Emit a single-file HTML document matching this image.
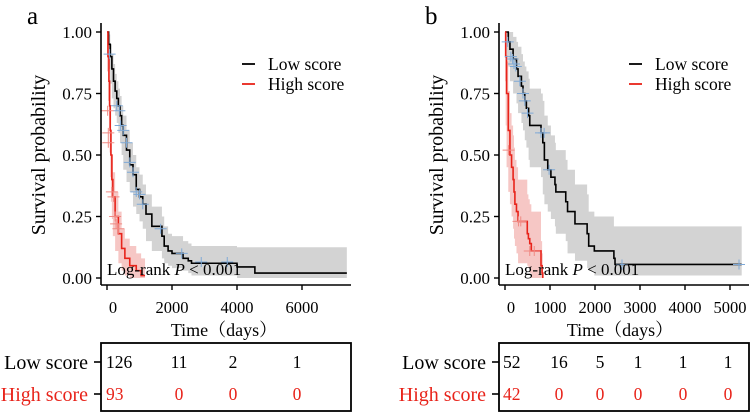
<!DOCTYPE html>
<html><head><meta charset="utf-8"><style>
html,body{margin:0;padding:0;background:#fff}
svg{display:block;font-family:"Liberation Serif","Noto Serif CJK SC",serif}
</style></head><body>
<svg id="chart" width="751" height="416" viewBox="0 0 751 416">
<g id="pa"></g>
<g id="pb"></g>
</svg>
<script>
// Panel A data
const aLowT = [0,50,100,150,200,250,300,350,400,450,500,600,700,800,900,1000,1100,1200,1380,1690,1760,1880,2000,2340,2500,2600,4000,4550,7380];
const aLowS = [1,0.95,0.9,0.85,0.8,0.76,0.73,0.7,0.66,0.62,0.58,0.52,0.46,0.42,0.36,0.33,0.3,0.26,0.21,0.17,0.13,0.11,0.1,0.08,0.07,0.06,0.045,0.02,0.02];
const aLowU = [1,0.99,0.95,0.91,0.87,0.83,0.8,0.77,0.74,0.7,0.66,0.6,0.55,0.5,0.45,0.42,0.38,0.34,0.29,0.25,0.21,0.18,0.17,0.15,0.14,0.13,0.125,0.125,0.125];
const aLowL = [1,0.91,0.85,0.79,0.73,0.69,0.66,0.63,0.59,0.55,0.5,0.44,0.39,0.35,0.29,0.26,0.23,0.2,0.15,0.11,0.08,0.06,0.05,0.04,0.03,0.02,0.01,0.0,0.0];
const aHighT = [0,30,60,80,100,120,150,180,250,350,450,550,700,900,1050,1170];
const aHighS = [1,0.9,0.8,0.7,0.6,0.5,0.4,0.33,0.25,0.18,0.12,0.08,0.05,0.03,0.01,0.01];
const aHighU = [1,0.96,0.88,0.79,0.7,0.6,0.5,0.43,0.35,0.27,0.2,0.16,0.13,0.1,0.08,0.08];
const aHighL = [1,0.84,0.72,0.61,0.51,0.41,0.31,0.24,0.17,0.11,0.06,0.03,0.01,0,0,0];
const aLowCensT = [80,300,380,420,500,600,700,800,900,1000,1100,1650,2300,2900,3700];
const aLowCensS = [0.91,0.7,0.68,0.62,0.6,0.55,0.47,0.43,0.35,0.34,0.3,0.2,0.1,0.065,0.065];
const aHighCensT = [20,40,40,150,200,250,280,350];
const aHighCensS = [0.68,0.59,0.55,0.35,0.33,0.25,0.22,0.2];
const aTicks = [0,2000,4000,6000];
const aRiskLow = ["126","11","2","1"];
const aRiskHigh = ["93","0","0","0"];
// Panel B data
const bLowT = [0,73,110,180,255,290,365,400,440,475,525,550,800,840,875,950,1020,1110,1130,1350,1390,1555,1825,1860,1985,2420,2445,5260];
const bLowS = [1,0.96,0.93,0.89,0.85,0.82,0.78,0.75,0.72,0.69,0.66,0.62,0.59,0.55,0.48,0.44,0.41,0.38,0.35,0.31,0.27,0.22,0.18,0.13,0.11,0.08,0.055,0.055];
const bLowU = [1,1,1,0.98,0.96,0.94,0.91,0.88,0.86,0.84,0.81,0.77,0.75,0.72,0.66,0.62,0.58,0.55,0.52,0.48,0.44,0.38,0.34,0.27,0.25,0.21,0.21,0.21];
const bLowL = [1,0.9,0.86,0.8,0.75,0.71,0.67,0.63,0.6,0.56,0.53,0.48,0.45,0.41,0.34,0.3,0.27,0.24,0.21,0.18,0.15,0.1,0.07,0.04,0.03,0.01,0.01,0.01];
const bHighT = [0,15,35,73,110,146,180,200,220,255,290,495,520,550,585,800,825,840];
const bHighS = [1,0.9,0.75,0.6,0.5,0.45,0.4,0.35,0.3,0.27,0.23,0.18,0.16,0.14,0.11,0.05,0.02,0];
const bHighU = [1,0.97,0.88,0.76,0.67,0.62,0.58,0.53,0.48,0.45,0.4,0.34,0.32,0.3,0.27,0.15,0.1,0];
const bHighL = [1,0.8,0.62,0.45,0.35,0.3,0.25,0.2,0.16,0.13,0.1,0.06,0.05,0.04,0.02,0,0,0];
const bLowCensT = [60,130,170,200,240,330,400,440,500,800,870,980,2600,5200];
const bLowCensS = [0.96,0.9,0.89,0.87,0.86,0.8,0.75,0.72,0.67,0.59,0.59,0.44,0.055,0.055];
const bHighCensT = [80,300,350,550,650];
const bHighCensS = [0.52,0.23,0.23,0.11,0.11];
const bTicks = [0,1000,2000,3000,4000,5000];
const bRiskLow = ["52","16","5","1","1","1"];
const bRiskHigh = ["42","0","0","0","0","0"];
const yTicks = [0,0.25,0.5,0.75,1];

const NS = "http://www.w3.org/2000/svg";
function mk(parent, tag, attrs, text){
  const e = document.createElementNS(NS, tag);
  for (const k in attrs) e.setAttribute(k, attrs[k]);
  if (text !== undefined) e.textContent = text;
  parent.appendChild(e);
  return e;
}
function stepPath(T, S, sx, sy){
  let d = "M" + sx(T[0]) + "," + sy(S[0]);
  for (let i = 1; i < T.length; i++){ d += "H" + sx(T[i]) + "V" + sy(S[i]); }
  return d;
}
function bandPath(T, U, L, sx, sy){
  let d = "M" + sx(T[0]) + "," + sy(U[0]);
  for (let i = 1; i < T.length; i++){ d += "H" + sx(T[i]) + "V" + sy(U[i]); }
  for (let i = T.length - 1; i > 0; i--){ d += "V" + sy(L[i]) + "H" + sx(T[i-1]); }
  d += "V" + sy(L[0]) + "Z";
  return d;
}

function panel(g, cfg){
  const sx = t => cfg.x0 + t * cfg.xk;
  const sy = v => 278 - v * 246;
  const letter = mk(g, "text", {x: cfg.ax - 74, y: 24, "font-size": 25}, cfg.letter);
  
  
  const b1 = mk(g, "path", {d: bandPath(cfg.lowT, cfg.lowU, cfg.lowL, sx, sy), fill: "#d3d3d3"});
  
  
  const b2 = mk(g, "path", {d: bandPath(cfg.highT, cfg.highU, cfg.highL, sx, sy), fill: "#f4b9b6", opacity: 0.8});
  
  
  const c1 = mk(g, "path", {d: stepPath(cfg.lowT, cfg.lowS, sx, sy), fill: "none", stroke: "#000", "stroke-width": 1.6});
  
  
  const c2 = mk(g, "path", {d: stepPath(cfg.highT, cfg.highS, sx, sy), fill: "none", stroke: "#e8231a", "stroke-width": 1.6});
  
  
  cfg.lcT.forEach((t, i) => {
    const m = mk(g, "path", {d: "M" + (sx(t)-6) + "," + sy(cfg.lcS[i]) + "h12M" + sx(t) + "," + (sy(cfg.lcS[i])-5) + "v10", stroke: "#7fa9d6", "stroke-width": 1});
    
    
  });
  cfg.hcT.forEach((t, i) => {
    const m = mk(g, "path", {d: "M" + (sx(t)-6) + "," + sy(cfg.hcS[i]) + "h12M" + sx(t) + "," + (sy(cfg.hcS[i])-5) + "v10", stroke: "#f08a84", "stroke-width": 1});
    
    
  });
  const ya = mk(g, "path", {d: "M" + cfg.ax + ",23V285", stroke: "#000", "stroke-width": 1.6, fill: "none"});
  
  
  const xa = mk(g, "path", {d: "M" + cfg.ax + ",285H" + cfg.xend, stroke: "#000", "stroke-width": 1.6, fill: "none"});
  
  
  yTicks.forEach(v => {
    mk(g, "path", {d: "M" + (cfg.ax-5) + "," + sy(v) + "H" + cfg.ax, stroke: "#000", "stroke-width": 1.4});
    const t = mk(g, "text", {x: cfg.ax - 9, y: sy(v) + 6, "font-size": 17, "text-anchor": "end"}, v.toFixed(2));
    
    
  });
  cfg.ticks.forEach((v, i) => {
    mk(g, "path", {d: "M" + sx(v) + ",285V290", stroke: "#000", "stroke-width": 1.4});
    const t = mk(g, "text", {x: sx(v) + (i === 0 ? 6 : 0), y: 313, "font-size": 16.5, "text-anchor": "middle"}, String(v));
    
    
  });
  const yt = mk(g, "text", {x: 0, y: 0, "font-size": 20, "text-anchor": "middle", transform: "translate(" + (cfg.ax - 56) + ",155) rotate(-90)"}, "Survival probability");
  
  
  const xt = mk(g, "text", {x: cfg.timeX, y: 336, "font-size": 18, "text-anchor": "middle"}, "Time（days）");
  
  
  const lr = mk(g, "text", {x: cfg.ax + 6, y: 275, "font-size": 17});
  
  
  mk(lr, "tspan", {}, "Log-rank    ");
  mk(lr, "tspan", {"font-style": "italic"}, "P");
  mk(lr, "tspan", {}, " < 0.001");
  [["Low score", "#000", 64], ["High score", "#e8231a", 84]].forEach(([lab, col, y]) => {
    const lg = mk(g, "g", {});
    
    
    mk(lg, "path", {d: "M" + cfg.legX + "," + y + "h13", stroke: col, "stroke-width": 1.8});
    mk(lg, "text", {x: cfg.legX + 26, y: y + 6, "font-size": 17.5}, lab);
  });
  const box = mk(g, "rect", {x: cfg.ax, y: 343, width: cfg.xend - cfg.ax, height: 68, fill: "none", stroke: "#000", "stroke-width": 1.8});
  
  
  [["Low score", "#000", 362, cfg.riskLow], ["High score", "#e8231a", 394, cfg.riskHigh]].forEach(([lab, col, y, vals]) => {
    const rl = mk(g, "text", {x: cfg.ax - 13, y: y + 7, "font-size": 20, "text-anchor": "end", fill: col}, lab);
    
    
    mk(g, "path", {d: "M" + (cfg.ax - 7) + "," + y + "H" + cfg.ax, stroke: "#000", "stroke-width": 1.6});
    vals.forEach((v, i) => {
      const tx = mk(g, "text", {x: cfg.colX[i], y: y + 6, "font-size": 17.5, fill: col, "text-anchor": i === 0 ? "start" : "middle"}, v);
      
      
    });
  });
}

panel(document.getElementById("pa"), {letter: "a", ax: 101, x0: 107, xk: 65/2000, xend: 351, ticks: aTicks,
  lowT: aLowT, lowS: aLowS, lowU: aLowU, lowL: aLowL, highT: aHighT, highS: aHighS, highU: aHighU, highL: aHighL,
  lcT: aLowCensT, lcS: aLowCensS, hcT: aHighCensT, hcS: aHighCensS, legX: 242, timeX: 224, riskLow: aRiskLow, riskHigh: aRiskHigh,
  colX: [106, 179, 233, 297]});
panel(document.getElementById("pb"), {letter: "b", ax: 499, x0: 505, xk: 0.045, xend: 749, ticks: bTicks,
  lowT: bLowT, lowS: bLowS, lowU: bLowU, lowL: bLowL, highT: bHighT, highS: bHighS, highU: bHighU, highL: bHighL,
  lcT: bLowCensT, lcS: bLowCensS, hcT: bHighCensT, hcS: bHighCensS, legX: 629, timeX: 620, riskLow: bRiskLow, riskHigh: bRiskHigh,
  colX: [503, 559, 600, 638, 683, 728]});
</script>
</body></html>
